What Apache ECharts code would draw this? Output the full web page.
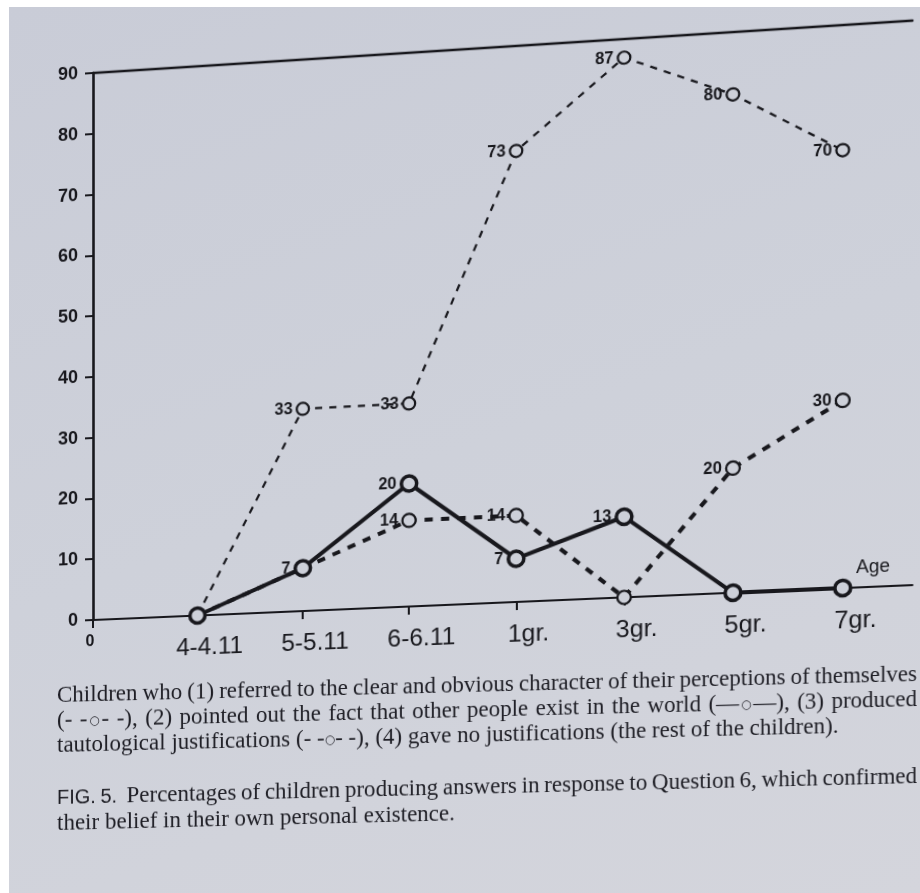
<!DOCTYPE html>
<html>
<head>
<meta charset="utf-8">
<script src="https://cdn.jsdelivr.net/npm/echarts@6/dist/echarts.min.js"></script>
<style>
  html, body { margin: 0; padding: 0; width: 920px; height: 893px; overflow: hidden; background: #ffffff; }
  #page {
    position: absolute; left: 9px; top: 7px; width: 911px; height: 886px;
    background: linear-gradient(160deg, #c9ccd7 0%, #ced1da 50%, #d4d5dc 100%);
  }
  /* the printed figure is photographed at a slight angle */
  #chart {
    position: absolute; left: 0; top: 0; width: 920px; height: 893px;
    transform-origin: 93px 620px;
    transform: matrix3d(1, -0.0426, 0, -0.000039, 0, 1, 0, 0, 0, 0, 1, 0, 0, 0, 0, 1);
  }
  #caption {
    position: absolute; left: 0; top: 0; width: 920px; height: 893px;
    transform-origin: 57px 700px; transform: skewY(-1.4deg);
    font-family: 'Liberation Serif', 'Times New Roman', serif; font-size: 23px; color: #1d1d24;
  }
  .ln { position: absolute; left: 57px; white-space: nowrap; line-height: 23px; }
  .j { width: 860px; text-align: justify; text-align-last: justify; }
  .o { font-family: 'DejaVu Sans', sans-serif; font-size: 12px; position: relative; top: -2px; }
  .sans { font-family: 'Liberation Sans', Arial, sans-serif; font-size: 20px; }
</style>
</head>
<body>
<div id="page"></div>
<div id="chart"></div>
<div id="caption">
  <div class="ln j" style="top:683px">Children who (1) referred to the clear and obvious character of their perceptions of themselves</div>
  <div class="ln j" style="top:708px">(- -<span class="o">○</span>- -), (2) pointed out the fact that other people exist in the world (—<span class="o">○</span>—), (3) produced</div>
  <div class="ln" style="top:733px">tautological justifications (- -<span class="o">○</span>- -), (4) gave no justifications (the rest of the children).</div>
  <div class="ln j" style="top:785px"><span class="sans">FIG. 5.</span>&nbsp; Percentages of children producing answers in response to Question 6, which confirmed</div>
  <div class="ln" style="top:811px">their belief in their own personal existence.</div>
</div>
<script>
// Age groups along the horizontal axis
const ages = ['4-4.11', '5-5.11', '6-6.11', '1gr.', '3gr.', '5gr.', '7gr.'];
// Percent scale on the vertical axis
const yTicks = [0, 10, 20, 30, 40, 50, 60, 70, 80, 90];

// (1) clear and obvious character of their perceptions of themselves
const clearObvious = [0, 33, 33, 73, 87, 80, 70];
// (2) other people exist in the world
const otherPeople = [0, 7, 20, 7, 13, 0, 0];
// (3) tautological justifications
const tautological = [0, 7, 14, 14, 0, 20, 30];

// which points carry a printed value
const clearObviousShown = [false, true, true, true, true, true, true];
const otherPeopleShown = [false, true, true, true, true, false, false];
const tautologicalShown = [false, false, true, true, false, true, true];

// justified caption lines: tighten word spacing when a line is too long for the measure
document.querySelectorAll('#caption .j').forEach(el => {
  const probe = document.createElement('span');
  probe.innerHTML = el.innerHTML;
  probe.style.whiteSpace = 'nowrap';
  el.innerHTML = '';
  el.appendChild(probe);
  const natural = probe.getBoundingClientRect().width;
  const gaps = (probe.textContent.match(/ /g) || []).length;
  el.innerHTML = probe.innerHTML;
  if (natural > 858 && gaps) el.style.wordSpacing = (-(natural - 858) / gaps).toFixed(2) + 'px';
});

const ink = '#18181d';
const hole = '#cdd0d9';
const xMax = 7.63;

function points(vals, shown) {
  return vals.map((v, i) => ({ value: [i + 1, v], label: { show: shown[i] } }));
}

const valueLabel = {
  position: 'left', distance: 3, color: ink,
  fontFamily: 'Liberation Sans', fontWeight: 'bold', fontSize: 16,
  formatter: p => String(p.value[1])
};

const chart = echarts.init(document.getElementById('chart'), null, { renderer: 'canvas', width: 920, height: 893 });
chart.setOption({
  animation: false,
  backgroundColor: 'transparent',
  grid: { left: 93, top: 73, width: 794, height: 547, containLabel: false },
  graphic: [{
    type: 'text', left: 834, top: 592,
    style: { text: 'Age', fill: ink, font: '18px "Liberation Sans"' }
  }],
  xAxis: [{
    type: 'value', min: 0, max: xMax, interval: 1,
    axisLine: { show: true, onZero: true, lineStyle: { color: ink, width: 2 } },
    axisTick: { show: true, length: 8, customValues: [0, 1, 2, 3, 4, 5, 6, 7], lineStyle: { color: ink, width: 2 } },
    axisLabel: {
      customValues: [0, 1, 2, 3, 4, 5, 6, 7],
      margin: 14, color: ink,
      formatter: v => (v === 0 ? '{o|0}' : '{c|' + ages[v - 1] + '}'),
      rich: {
        o: { fontFamily: 'Liberation Sans', fontWeight: 'bold', fontSize: 16, color: ink, padding: [0, 6, 0, 0] },
        c: { fontFamily: 'Liberation Sans', fontSize: 24, color: ink, padding: [6, 0, 0, 24] }
      }
    },
    splitLine: { show: false }
  }, {
    type: 'value', position: 'top', min: 0, max: xMax,
    axisLine: { show: true, onZero: false, lineStyle: { color: ink, width: 2.4 } },
    axisTick: { show: false }, axisLabel: { show: false }, splitLine: { show: false }
  }],
  yAxis: {
    type: 'value', min: yTicks[0], max: yTicks[yTicks.length - 1], interval: 10,
    axisLine: { show: true, lineStyle: { color: ink, width: 2.6 } },
    axisTick: { show: true, length: 8, lineStyle: { color: ink, width: 2 } },
    axisLabel: { margin: 15, color: ink, fontFamily: 'Liberation Sans', fontWeight: 'bold', fontSize: 18 },
    splitLine: { show: false }
  },
  series: [{
    name: 'clear and obvious', type: 'line', z: 2,
    data: points(clearObvious, clearObviousShown),
    symbol: 'circle', symbolSize: 12,
    lineStyle: { color: ink, width: 2.2, type: [7, 7] },
    itemStyle: { color: hole, borderColor: ink, borderWidth: 2.2 },
    label: valueLabel
  }, {
    name: 'tautological', type: 'line', z: 3,
    data: points(tautological, tautologicalShown),
    symbol: 'circle', symbolSize: 13,
    lineStyle: { color: ink, width: 4, type: [8, 8] },
    itemStyle: { color: hole, borderColor: ink, borderWidth: 2.2 },
    label: valueLabel
  }, {
    name: 'other people exist', type: 'line', z: 4,
    data: points(otherPeople, otherPeopleShown),
    symbol: 'circle', symbolSize: 15,
    lineStyle: { color: ink, width: 4 },
    itemStyle: { color: hole, borderColor: ink, borderWidth: 3.5 },
    label: valueLabel
  }]
});
</script>
</body>
</html>
